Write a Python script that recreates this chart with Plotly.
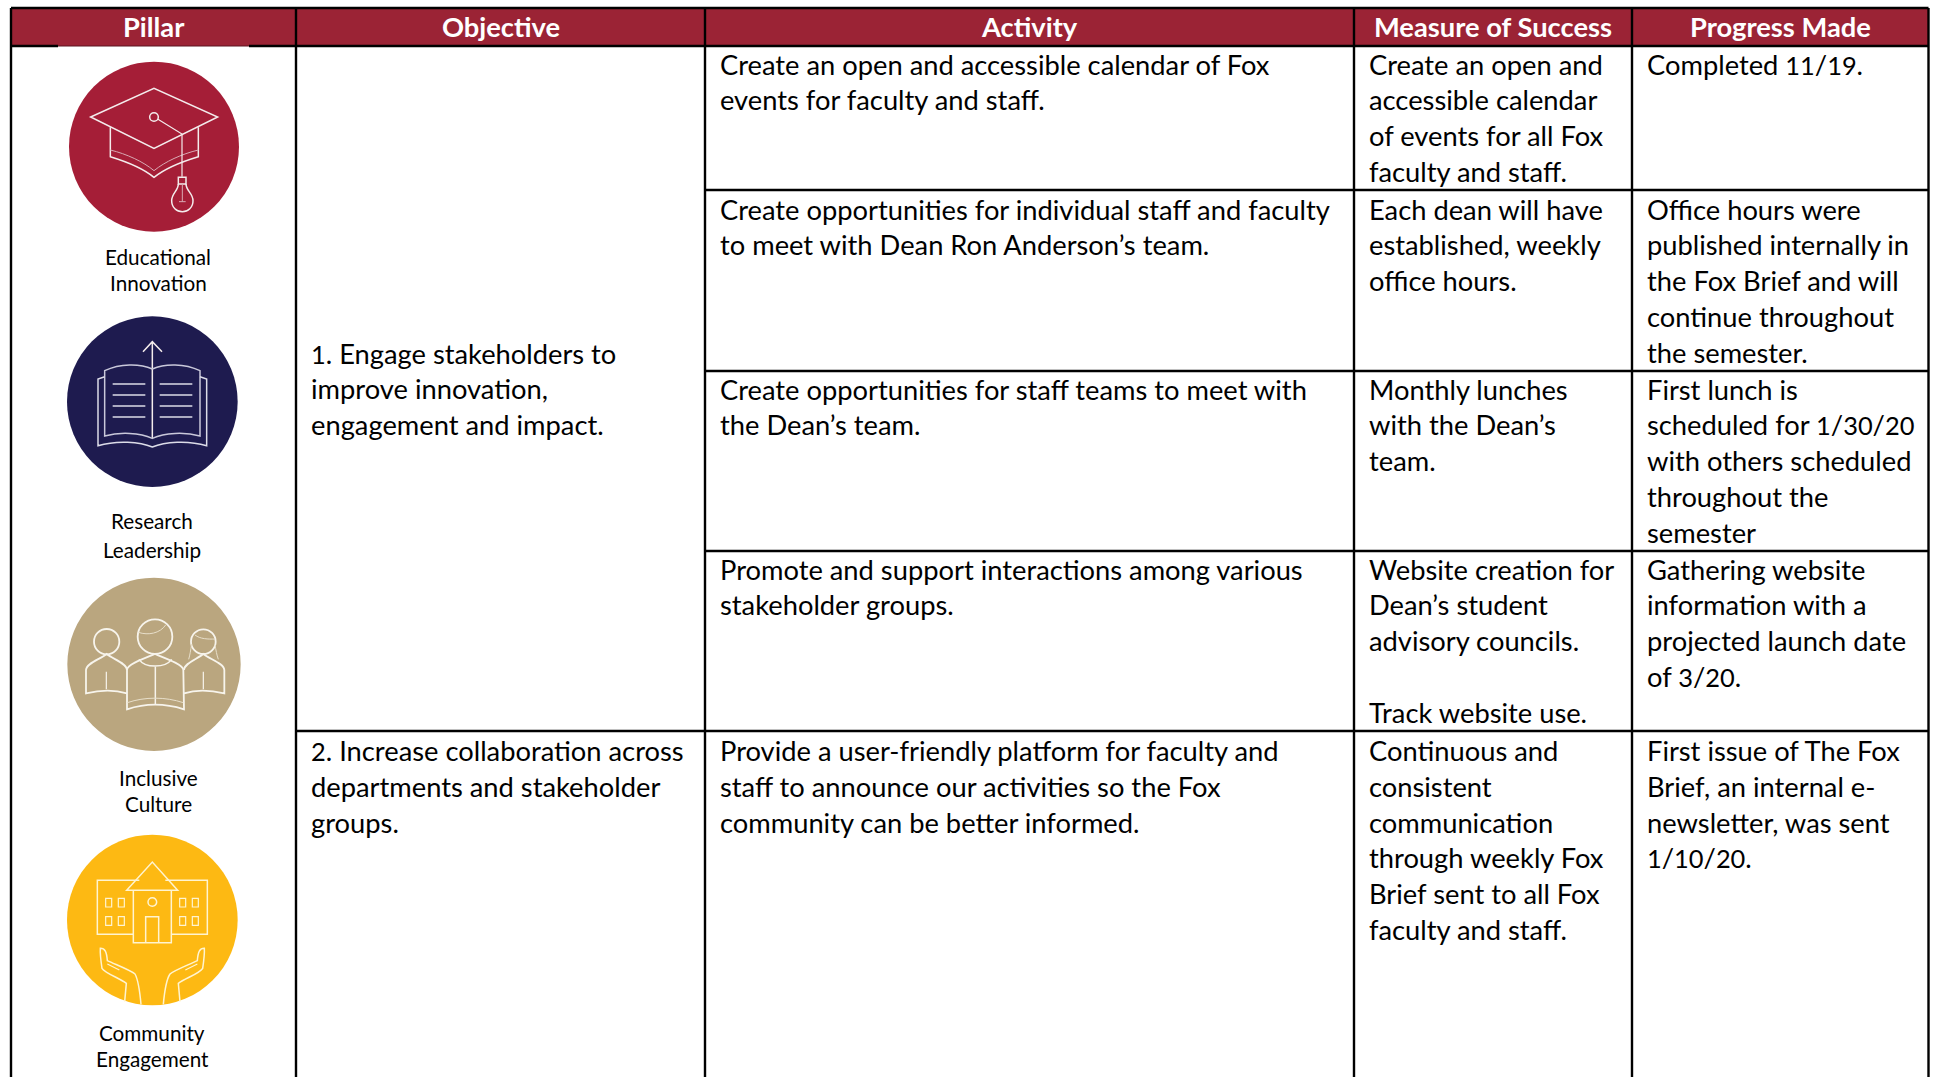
import re
import plotly.graph_objects as go

# ---------- table content ----------
columns = ["Pillar", "Objective", "Activity", "Measure of Success", "Progress Made"]
pillars = [["Educational", "Innovation"], ["Research", "Leadership"], ["Inclusive", "Culture"], ["Community", "Engagement"]]
objectives = [
    ["1. Engage stakeholders to", "improve innovation,", "engagement and impact."],
    ["2. Increase collaboration across", "departments and stakeholder", "groups."],
]
activities = [
    ["Create an open and accessible calendar of Fox", "events for faculty and staff."],
    ["Create opportunities for individual staff and faculty", "to meet with Dean Ron Anderson\u2019s team."],
    ["Create opportunities for staff teams to meet with", "the Dean\u2019s team."],
    ["Promote and support interactions among various", "stakeholder groups."],
    ["Provide a user-friendly platform for faculty and", "staff to announce our activities so the Fox", "community can be better informed."],
]
measures = [
    ["Create an open and", "accessible calendar", "of events for all Fox", "faculty and staff."],
    ["Each dean will have", "established, weekly", "office hours."],
    ["Monthly lunches", "with the Dean\u2019s", "team."],
    ["Website creation for", "Dean\u2019s student", "advisory councils.", "", "Track website use."],
    ["Continuous and", "consistent", "communication", "through weekly Fox", "Brief sent to all Fox", "faculty and staff."],
]
progress = [
    ["Completed 11/19."],
    ["Office hours were", "published internally in", "the Fox Brief and will", "continue throughout", "the semester."],
    ["First lunch is", "scheduled for 1/30/20", "with others scheduled", "throughout the", "semester"],
    ["Gathering website", "information with a", "projected launch date", "of 3/20."],
    ["First issue of The Fox", "Brief, an internal e-", "newsletter, was sent", "1/10/20."],
]

# ---------- layout geometry ----------
W, H = 1935, 1077
col_x = [11, 296, 705, 1354, 1632, 1928.5]
row_y = [46, 190, 371, 551, 731, H + 5]
top = 8
pad = 12.5
pitch = 35.8
FONT = "Lato"
BODY = 27.3
RED = "#9B2335"

shapes = []
ann = []

def line(x0, y0, x1, y1, w=2.4, c="#000"):
    shapes.append(dict(type="line", x0=x0, y0=y0, x1=x1, y1=y1, xref="x", yref="y",
                       line=dict(color=c, width=w), layer="above"))

def text(x, y, s, size=BODY, anchor="left", color="#000", bold=False):
    ann.append(dict(x=x, y=y, xref="x", yref="y", text=f"<b>{s}</b>" if bold else s, showarrow=False,
                    xanchor=anchor, yanchor="middle", align=anchor,
                    font=dict(family=FONT, size=size, color=color)))

DIGITS = re.compile(r"\d+")
def block(col, first_y, lines):
    for i, s in enumerate(lines):
        if s:
            s = DIGITS.sub(lambda m: f'<span style="font-size:25.4px">{m[0]}</span>', s)
            text(col_x[col] + pad, first_y + i * pitch, s)

# header band
shapes.append(dict(type="rect", x0=col_x[0], x1=col_x[-1], y0=top, y1=row_y[0], xref="x", yref="y",
                   fillcolor=RED, line=dict(width=0), layer="below"))
for i, c in enumerate(columns):
    text((col_x[i] + col_x[i + 1]) / 2, 26.5, c, size=27.3, anchor="center", color="#fff", bold=True)

# grid
line(col_x[0], top, col_x[-1], top)
for x in col_x:
    line(x, top, x, H + 5)
line(col_x[0], row_y[0], 58, row_y[0])
line(58, row_y[0], 249, row_y[0], w=1, c="#5a1520")
line(249, row_y[0], col_x[-1], row_y[0])
for y in row_y[1:4]:
    line(col_x[2], y, col_x[-1], y)
line(col_x[1], row_y[4], col_x[-1], row_y[4])

# body text
block(1, 353, objectives[0])
block(1, 750.5, objectives[1])
first = [64, 209, 389, 569, 750.5]
for i in range(5):
    block(2, first[i], activities[i])
    block(3, first[i], measures[i])
    block(4, first[i], progress[i])

# pillar labels
label_pos = [(158, 256.5, 282.5), (152, 520.5, 549.5), (158, 777.5, 803.5), (152, 1032.5, 1058.5)]
for lab, (x, y0, y1) in zip(pillars, label_pos):
    text(x, y0, lab[0], size=20.7, anchor="center")
    text(x, y1, lab[1], size=20.7, anchor="center")

# ---------- icons: sketched in 3x-zoom pixels, mapped to the page ----------
NUM = re.compile(r"(-?\d+\.?\d*)\s+(-?\d+\.?\d*)")
def P(d, ox, oy):
    return NUM.sub(lambda m: f"{float(m[1]) / 3 + ox:.2f} {float(m[2]) / 3 + oy:.2f}", d)

def path(d, ox, oy, w=1.5, c="#f4ecec", fill=None):
    shapes.append(dict(type="path", path=P(d, ox, oy), xref="x", yref="y", layer="above",
                       line=dict(color=c, width=w), fillcolor=fill or "rgba(0,0,0,0)"))

def circ(cx, cy, r, fill, ox=0, oy=0, w=0, c=None):
    shapes.append(dict(type="circle", x0=cx / 3 + ox - r / 3, x1=cx / 3 + ox + r / 3,
                       y0=cy / 3 + oy - r / 3, y1=cy / 3 + oy + r / 3, xref="x", yref="y", layer="above",
                       fillcolor=fill, line=dict(width=w, color=c or fill)))

# graduation cap + bulb
o = (0, 0)
circ(462, 440, 255, "#A51E37")
path("M 272 351 L 462 265 L 653 351 L 462 445 Z", *o)
path("M 331 382 L 331 470 C 380 485 430 505 462 532 C 495 505 545 485 595 470 L 595 382", *o)
path("M 331 450 C 380 462 430 485 462 512 C 495 485 545 462 595 450", *o, w=1, c="#d9a9b3")
circ(462, 351, 13, "rgba(0,0,0,0)", *o, w=1.5, c="#f4ecec")
path("M 474 358 L 546 402 L 546 530", *o, w=1.2)
path("M 535 532 L 558 532 L 558 552 L 535 552 Z", *o)
path("M 535 552 C 535 572 515 580 515 602 C 515 622 530 635 547 635 C 564 635 579 622 579 602 C 579 580 558 572 558 552", *o)
path("M 547 552 L 547 605 M 537 605 L 557 605", *o, w=1, c="#d9a9b3")

# book
o = (0, 300)
circ(457, 305, 256, "#1E1B4F", *o)
path("M 457 415 L 457 125 M 429 155 L 457 125 L 486 155", *o)
path("M 457 207 C 420 190 360 190 314 212 L 314 408 C 360 395 420 398 457 415 C 494 398 554 395 600 408 L 600 212 C 554 190 494 190 457 207", *o, c="#c9c8da")
path("M 314 230 L 294 237 L 294 437 C 350 420 420 425 457 441 C 494 425 564 420 620 437 L 620 237 L 600 230", *o, c="#dcdce8")
for yy in (252, 285, 318, 351):
    path(f"M 338 {yy} L 436 {yy} M 479 {yy} L 577 {yy}", *o, c="#dcdce8")

# people
o = (0, 570)
circ(462, 283, 260, "#BAA67F", *o)
circ(320, 215, 38, "rgba(0,0,0,0)", *o, w=1.8, c="#f7f4ec")
circ(465, 200, 52, "rgba(0,0,0,0)", *o, w=1.8, c="#f7f4ec")
circ(610, 215, 37, "rgba(0,0,0,0)", *o, w=1.8, c="#f7f4ec")
path("M 415 187 C 445 197 480 190 497 165", *o, w=1, c="#e8dfca")
path("M 585 195 C 600 207 625 208 645 207", *o, w=1, c="#e8dfca")
path("M 575 222 C 572 240 570 255 566 268 M 645 225 C 648 240 650 255 655 268", *o, w=1, c="#e8dfca")
c = "#f7f4ec"
path("M 381 370 C 340 358 300 360 258 370 L 258 300 C 258 280 300 268 320 252 C 340 268 381 280 381 300", *o, w=1.8, c=c)
path("M 319 305 L 319 358 M 610 305 L 610 358", *o, w=1.2, c=c)
path("M 552 370 C 590 358 630 360 673 370 L 673 300 C 673 280 630 268 610 252 C 590 268 552 280 552 300", *o, w=1.8, c=c)
path("M 381 300 C 381 285 420 270 465 252 C 510 270 550 285 550 300 L 552 418 C 495 400 435 400 381 418 Z", *o, w=1.8, c=c)
path("M 417 268 C 435 295 495 295 515 268", *o, w=1.5, c=c)
path("M 466 290 L 466 402", *o, w=1.5, c=c)
path("M 382 398 C 435 380 495 380 550 398", *o, w=1, c="#e8dfca")

# school + hands
o = (0, 820)
circ(457, 300, 256, "#FDB913", *o)
c = "#FFF4D0"
path("M 380 211 L 457 126 L 533 211 Z", *o, c=c)
path("M 400 211 L 400 368 L 514 368 L 514 211", *o, c=c)
path("M 437 368 L 437 290 L 476 290 L 476 368", *o, c=c)
path("M 418 181 L 292 181 L 292 343 L 400 343 M 496 181 L 622 181 L 622 343 L 514 343", *o, c=c)
circ(457, 246, 13, "rgba(0,0,0,0)", *o, w=1.5, c=c)
for xx in (317, 355, 539, 577):
    for yy in (235, 290):
        path(f"M {xx} {yy} L {xx + 18} {yy} L {xx + 18} {yy + 26} L {xx} {yy + 26} Z", *o, w=1.2, c=c)
path("M 374 545 L 379 490 C 360 475 315 460 306 445 C 303 425 300 400 301 385 C 315 385 320 395 322 422 C 350 435 390 450 405 462 C 415 480 420 520 423 553", *o, c=c)
path("M 540 545 L 535 490 C 555 475 600 460 608 445 C 611 425 614 400 613 385 C 599 385 594 395 592 422 C 565 435 525 450 510 462 C 498 480 493 520 490 553", *o, c=c)
path("M 322 432 L 358 450 M 592 432 L 556 450", *o, w=1.2, c=c)

fig = go.Figure()
fig.update_layout(
    width=W, height=H, margin=dict(l=0, r=0, t=0, b=0), paper_bgcolor="#fff", plot_bgcolor="#fff",
    xaxis=dict(range=[0, W], visible=False, fixedrange=True),
    yaxis=dict(range=[H, 0], visible=False, fixedrange=True),
    shapes=shapes, annotations=ann, showlegend=False,
)
fig.write_html("out.html", config=dict(displayModeBar=False),
               post_script="document.body.style.margin='0';document.body.style.overflow='hidden';")
